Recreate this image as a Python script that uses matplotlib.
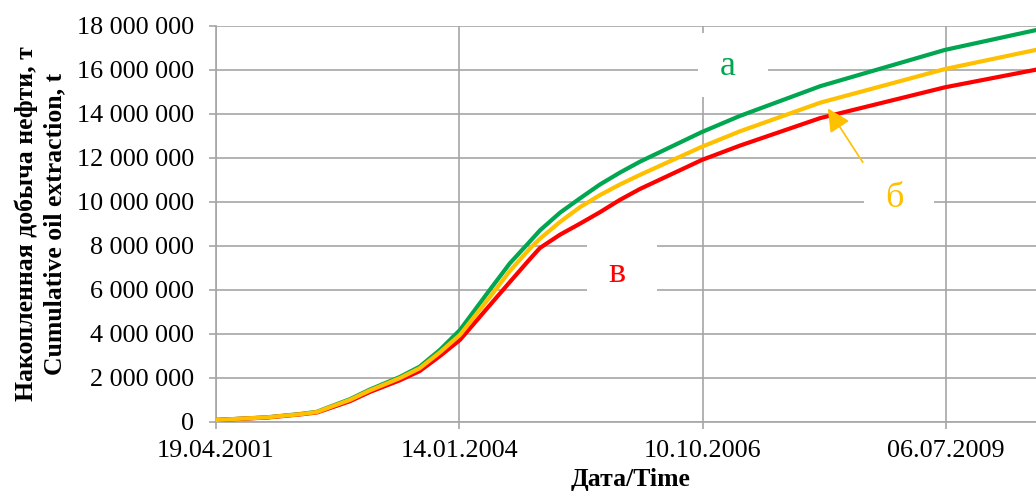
import numpy as np
import pandas as pd
import matplotlib
matplotlib.use("Agg")
import matplotlib.pyplot as plt
import matplotlib.dates as mdates
import matplotlib.transforms as mtransforms
from matplotlib.patches import Rectangle
from matplotlib.ticker import FuncFormatter

# cumulative oil extraction, million tonnes
dates = ["2001-04-19", "2001-11-15", "2002-03-30", "2002-06-08", "2002-07-31",
         "2002-10-21", "2003-01-11", "2003-05-14", "2003-08-04", "2003-10-26",
         "2004-01-17", "2004-05-19", "2004-08-09", "2004-10-31", "2004-12-11",
         "2005-03-03", "2005-05-24", "2005-08-14", "2005-11-04", "2006-01-26",
         "2006-10-08", "2007-03-13", "2008-02-06", "2009-07-03", "2010-07-12"]
green_a = [0.08, 0.20, 0.35, 0.45, 0.68, 1.02, 1.46, 2.03, 2.50, 3.26,
           4.17, 6.00, 7.20, 8.20, 8.70, 9.50, 10.15, 10.78, 11.32, 11.82,
           13.17, 13.90, 15.25, 16.90, 17.80]
yellow_b = [0.08, 0.20, 0.34, 0.44, 0.66, 0.99, 1.42, 1.98, 2.43, 3.15,
            3.95, 5.67, 6.85, 7.88, 8.32, 9.08, 9.75, 10.30, 10.78, 11.22,
            12.50, 13.20, 14.50, 16.03, 16.90]
red_c = [0.08, 0.19, 0.33, 0.42, 0.62, 0.93, 1.35, 1.88, 2.30, 2.98,
         3.72, 5.30, 6.35, 7.40, 7.90, 8.50, 9.00, 9.52, 10.08, 10.58,
         11.90, 12.55, 13.80, 15.20, 16.00]

x_start = "2001-04-19"
x_end = "2010-07-12"
tick_step_days = 1000

# curve labels: (text, colour, date, baseline value)
labels = [("а", "#00A650", "2007-01-21", 15.74e6),
          ("б", "#FFC000", "2008-12-05", 9.75e6),
          ("в", "#FF0000", "2005-10-23", 6.36e6)]
arrow_tip = ("2008-03-08", 14.24e6)
arrow_tail = ("2008-07-30", 11.79e6)

plt.rcParams['font.family'] = ['Liberation Serif', 'DejaVu Serif']

x = pd.to_datetime(dates)
fig = plt.figure(figsize=(10.36, 4.91), dpi=100)
ax = fig.add_axes([0.2085, 0.1411, 0.7915, 0.8066])

ax.plot(x, np.array(green_a) * 1e6, color="#00A650", lw=3.0, zorder=3)
ax.plot(x, np.array(red_c) * 1e6, color="#FF0000", lw=3.0, zorder=3)
ax.plot(x, np.array(yellow_b) * 1e6, color="#FFC000", lw=3.0, zorder=3)

ax.set_ylim(0, 18e6)
ax.set_yticks(np.arange(0, 18e6 + 1, 2e6))
ax.yaxis.set_major_formatter(FuncFormatter(lambda v, p: f"{int(round(v)):,}".replace(",", " ")))
t0 = pd.Timestamp(x_start)
t1 = pd.Timestamp(x_end)
ax.set_xlim(t0, t1)
ticks = [t0 + pd.Timedelta(days=tick_step_days * k) for k in range(4)]
ax.set_xticks(ticks)
ax.xaxis.set_major_formatter(mdates.DateFormatter("%d.%m.%Y"))

grid_c = "#A6A6A6"
ax.grid(True, color=grid_c, lw=1.2)
ax.set_axisbelow(True)
for s in ["top", "right"]:
    ax.spines[s].set_visible(False)
for s in ["left", "bottom"]:
    ax.spines[s].set_color(grid_c)
    ax.spines[s].set_linewidth(1.2)
ax.tick_params(axis="both", length=5, width=1.2, color=grid_c, labelsize=18.8)
ax.tick_params(axis="y", pad=11)
ax.tick_params(axis="x", pad=8)

ax.set_ylabel("Накопленная добыча нефти, т\nCumulative oil extraction, t",
              fontsize=18.5, fontweight="bold", linespacing=1.3)
ax.yaxis.set_label_coords(-0.183, 0.5)
ax.set_xlabel("Дата/Time", fontsize=18.5, fontweight="bold")
ax.xaxis.set_label_coords(0.505, -0.117)

for txt, col, d, val in labels:
    xn = mdates.date2num(pd.Timestamp(d))
    tr = fig.dpi_scale_trans + mtransforms.ScaledTranslation(xn, val, ax.transData)
    ax.add_patch(Rectangle((-0.30, -0.22), 0.70, 0.64, transform=tr,
                           facecolor="white", edgecolor="none", zorder=1.5))
    ax.text(pd.Timestamp(d), val, txt, color=col, fontsize=26,
            ha="center", va="baseline", zorder=4)

ax.annotate("", xy=(pd.Timestamp(arrow_tip[0]), arrow_tip[1]),
            xytext=(pd.Timestamp(arrow_tail[0]), arrow_tail[1]),
            arrowprops=dict(arrowstyle="-|>,head_length=0.7,head_width=0.35",
                            color="#FFC000", lw=1.2, mutation_scale=20,
                            shrinkA=0, shrinkB=0),
            zorder=4)

fig.savefig("out.png", dpi=100)
